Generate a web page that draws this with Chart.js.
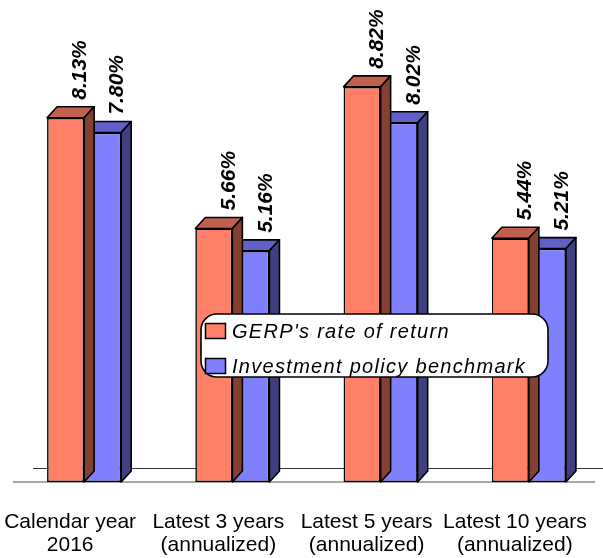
<!DOCTYPE html>
<html>
<head>
<meta charset="utf-8">
<script src="https://cdn.jsdelivr.net/npm/chart.js@4/dist/chart.umd.min.js"></script>
<style>
  html, body { margin: 0; padding: 0; background: #fff; }
  #wrap { width: 603px; height: 558px; }
</style>
</head>
<body>
<div id="wrap"><canvas id="c"></canvas></div>
<script>
// Periods shown along the bottom (two text lines each)
const categories = [
  ['Calendar year', '2016'],
  ['Latest 3 years', '(annualized)'],
  ['Latest 5 years', '(annualized)'],
  ['Latest 10 years', '(annualized)']
];
const seriesNames = ["GERP's rate of return", 'Investment policy benchmark'];
// Returns in percent
const gerpReturn = [8.13, 5.66, 8.82, 5.44];
const benchmarkReturn = [7.80, 5.16, 8.02, 5.21];

// Face colours for the extruded bars: front, top, side
const gerpColors = { front: '#ff8066', top: '#c0604f', side: '#844030' };
const benchColors = { front: '#8080ff', top: '#6060c8', side: '#404080' };

const DEPTH_X = 10;   // horizontal extrusion of each bar
const DEPTH_Y = 11;   // vertical extrusion of each bar
const FONT = '"Liberation Sans", Arial, sans-serif';

function poly(ctx, pts, fill) {
  ctx.beginPath();
  ctx.moveTo(pts[0][0], pts[0][1]);
  for (let i = 1; i < pts.length; i++) ctx.lineTo(pts[i][0], pts[i][1]);
  ctx.closePath();
  ctx.fillStyle = fill;
  ctx.fill();
  ctx.stroke();
}

function roundRectPath(ctx, x, y, w, h, r) {
  ctx.beginPath();
  ctx.moveTo(x + r, y);
  ctx.lineTo(x + w - r, y);
  ctx.arcTo(x + w, y, x + w, y + r, r);
  ctx.lineTo(x + w, y + h - r);
  ctx.arcTo(x + w, y + h, x + w - r, y + h, r);
  ctx.lineTo(x + r, y + h);
  ctx.arcTo(x, y + h, x, y + h - r, r);
  ctx.lineTo(x, y + r);
  ctx.arcTo(x, y, x + r, y, r);
  ctx.closePath();
}

const bars3d = {
  id: 'bars3d',
  // floor edges behind the bars
  beforeDatasetsDraw(chart) {
    const { ctx, chartArea } = chart;
    const y0 = chart.scales.y.getPixelForValue(0);
    ctx.save();
    ctx.lineWidth = 1.2;
    ctx.strokeStyle = '#333';
    ctx.beginPath();
    ctx.moveTo(chartArea.left + 23, y0 - 13.5);
    ctx.lineTo(chartArea.right + 5, y0 - 13.5);
    ctx.stroke();
    ctx.strokeStyle = '#555';
    ctx.beginPath();
    ctx.moveTo(chartArea.left + 3, y0);
    ctx.lineTo(chartArea.right - 8, y0);
    ctx.stroke();
    ctx.restore();
  },
  // top and side faces of each bar, drawn right after its front face
  afterDatasetDraw(chart, args) {
    const { ctx } = chart;
    const ds = chart.data.datasets[args.index];
    ctx.save();
    ctx.lineWidth = 1.6;
    ctx.strokeStyle = '#000';
    ctx.lineJoin = 'round';
    args.meta.data.forEach(bar => {
      const p = bar.getProps(['x', 'y', 'base', 'width'], true);
      const l = p.x - p.width / 2, r = p.x + p.width / 2;
      poly(ctx, [[l, p.y], [l + DEPTH_X, p.y - DEPTH_Y], [r + DEPTH_X, p.y - DEPTH_Y], [r, p.y]], ds.topColor);
      poly(ctx, [[r, p.y], [r + DEPTH_X, p.y - DEPTH_Y], [r + DEPTH_X, p.base - DEPTH_Y], [r, p.base]], ds.sideColor);
    });
    ctx.restore();
  },
  // rotated value labels above the back edge of each bar
  afterDatasetsDraw(chart) {
    const { ctx } = chart;
    ctx.save();
    ctx.fillStyle = '#000';
    ctx.font = 'italic bold 21px ' + FONT;
    ctx.textAlign = 'left';
    ctx.textBaseline = 'middle';
    chart.data.datasets.forEach((ds, di) => {
      chart.getDatasetMeta(di).data.forEach((bar, i) => {
        const p = bar.getProps(['x', 'y'], true);
        ctx.save();
        ctx.translate(p.x + DEPTH_X + 5, p.y - DEPTH_Y - 7);
        ctx.rotate(-Math.PI / 2);
        ctx.fillText(ds.data[i].toFixed(2) + '%', 0, 0);
        ctx.restore();
      });
    });
    ctx.restore();
  },
  // legend box laid over the middle of the plot
  afterDraw(chart) {
    const { ctx } = chart;
    const bx = 201, by = 314, bw = 347, bh = 63;
    ctx.save();
    roundRectPath(ctx, bx, by, bw, bh, 16);
    ctx.fillStyle = '#fff';
    ctx.fill();
    ctx.lineWidth = 1.6;
    ctx.strokeStyle = '#000';
    ctx.stroke();
    ctx.font = 'italic 20px ' + FONT;
    if ('letterSpacing' in ctx) ctx.letterSpacing = '1.3px';
    ctx.textAlign = 'left';
    ctx.textBaseline = 'middle';
    chart.data.datasets.forEach((ds, i) => {
      const cy = by + 17 + i * 35;
      ctx.fillStyle = ds.backgroundColor;
      ctx.fillRect(bx + 4.5, cy - 7.5, 20, 15);
      ctx.lineWidth = 1.5;
      ctx.strokeStyle = '#000';
      ctx.strokeRect(bx + 4.5, cy - 7.5, 20, 15);
      ctx.fillStyle = '#000';
      ctx.fillText(ds.label, bx + 31, cy + 1);
    });
    ctx.restore();
  }
};

new Chart(document.getElementById('c'), {
  type: 'bar',
  data: {
    labels: categories,
    datasets: [
      {
        label: seriesNames[0],
        data: gerpReturn,
        backgroundColor: gerpColors.front,
        topColor: gerpColors.top,
        sideColor: gerpColors.side
      },
      {
        label: seriesNames[1],
        data: benchmarkReturn,
        backgroundColor: benchColors.front,
        topColor: benchColors.top,
        sideColor: benchColors.side
      }
    ]
  },
  options: {
    responsive: true,
    maintainAspectRatio: false,
    animation: false,
    devicePixelRatio: 1,
    layout: { padding: { left: 10, right: 0, top: 34, bottom: 0 } },
    datasets: {
      bar: {
        categoryPercentage: 0.5,
        barPercentage: 1.0,
        borderColor: '#000',
        borderWidth: 1.6,
        borderSkipped: false
      }
    },
    plugins: {
      legend: { display: false },
      tooltip: { enabled: false }
    },
    scales: {
      x: {
        offset: true,
        grid: { display: false, drawTicks: false },
        border: { display: false },
        ticks: {
          color: '#000',
          padding: 29,
          labelOffset: -14,
          maxRotation: 0,
          autoSkip: false,
          font: { family: FONT, size: 21, lineHeight: '23px' }
        },
        afterFit(scale) {
          // keep the plot spanning the full width and the labels in a fixed band
          scale.paddingLeft = 0;
          scale.paddingRight = 0;
          scale.height = 76;
        }
      },
      y: {
        display: false,
        min: 0,
        max: 10
      }
    }
  },
  plugins: [bars3d]
});
</script>
</body>
</html>
